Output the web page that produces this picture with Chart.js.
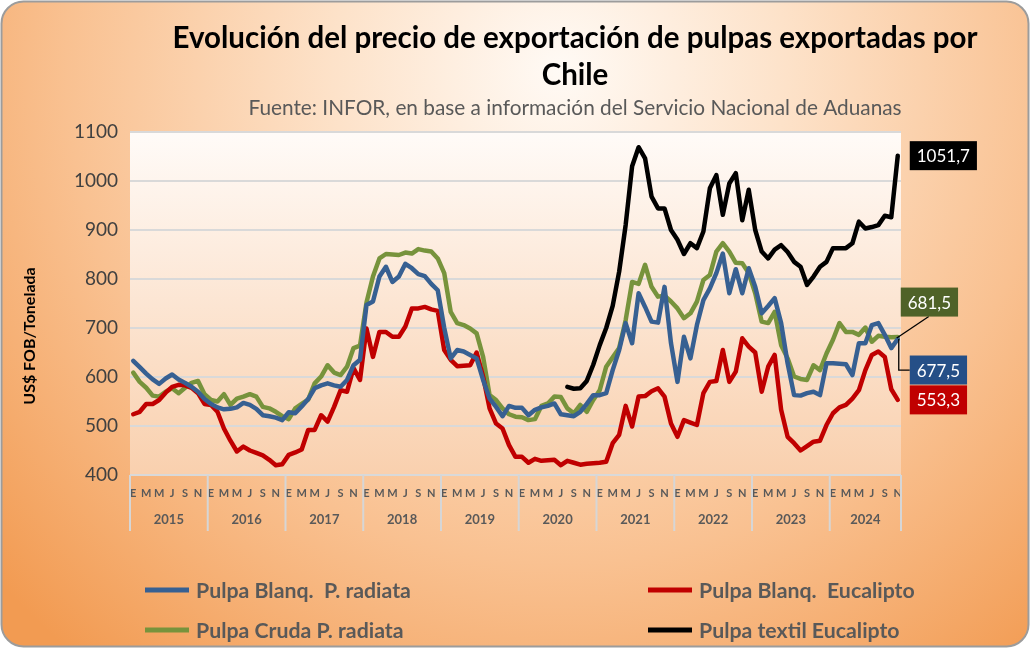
<!DOCTYPE html>
<html><head><meta charset="utf-8">
<script src="https://cdn.jsdelivr.net/npm/chart.js@4.4.0/dist/chart.umd.min.js"></script>
<style>html,body{margin:0;padding:0;background:#ffffff;}canvas{display:block;}</style>
</head><body>
<canvas id="c" width="1030" height="648"></canvas>
<script>
// ---------- DATA ----------
const years = ['2015','2016','2017','2018','2019','2020','2021','2022','2023','2024'];
const monthTicks = ['E','','M','','M','','J','','S','','N',''];
const seriesNames = ['Pulpa Blanq.  P. radiata','Pulpa Blanq.  Eucalipto','Pulpa Cruda P. radiata','Pulpa textil Eucalipto'];
const yTicks = [400,500,600,700,800,900,1000,1100];

const blancaRadiata = [
633,620,607,595,586,597,605,595,588,580,570,555,
545,538,534,535,538,547,543,535,522,520,517,512,
528,526,540,555,577,583,587,583,580,594,624,635,
747,754,805,825,794,805,831,822,810,806,790,777,
700,638,655,652,645,638,594,556,539,520,541,537,
537,522,533,538,541,546,524,522,520,529,545,563,
563,567,614,655,710,669,771,743,713,711,784,669,
590,682,638,706,757,781,812,852,771,820,771,822,
784,730,745,761,710,628,563,562,567,570,563,628,
628,627,626,604,669,669,706,710,686,659,677.5];

const blancaEucalipto = [
524,529,545,545,553,568,580,584,583,578,567,545,
543,529,495,470,448,458,450,445,440,431,420,422,
441,446,452,492,492,522,509,539,573,570,618,594,
699,641,692,692,682,682,703,740,740,743,738,735,
655,635,622,623,624,650,601,536,505,495,461,437,
437,425,433,429,430,431,420,429,425,421,423,424,
425,427,465,482,541,499,560,561,571,577,560,505,
478,512,507,502,567,590,592,655,590,611,679,662,
650,570,621,645,533,478,465,450,459,468,470,502,
526,538,543,556,573,614,645,652,641,575,553.3];

const crudaRadiata = [
609,590,578,562,560,570,577,567,578,588,592,565,
553,550,565,543,556,560,565,560,539,536,529,520,
514,536,545,554,587,601,624,609,604,621,659,664,
752,805,842,851,850,849,854,852,861,858,856,842,
812,733,710,706,699,689,641,563,553,536,524,519,
518,512,514,541,546,560,559,536,526,543,529,553,
573,621,640,659,716,794,790,829,784,764,766,754,
740,720,730,754,798,808,856,873,856,833,832,812,
771,713,710,733,665,638,601,596,594,624,614,648,
676,710,692,692,686,701,672,684,682,681,681.5];

const textilEucalipto = [
null,null,null,null,null,null,null,null,null,null,null,null,
null,null,null,null,null,null,null,null,null,null,null,null,
null,null,null,null,null,null,null,null,null,null,null,null,
null,null,null,null,null,null,null,null,null,null,null,null,
null,null,null,null,null,null,null,null,null,null,null,null,
null,null,null,null,null,null,null,580,576,577,592,625,
665,700,745,815,910,1030,1069,1046,968,944,944,900,
880,851,873,863,897,985,1012,931,995,1016,920,982,
900,856,842,860,869,855,835,825,788,805,825,835,
863,863,863,873,917,903,906,910,929,926,1051.7];

// categories built from years x months
const categories = [];
years.forEach(y => monthTicks.forEach((m, k) => categories.push(y + '-' + (k + 1))));
categories.length = blancaRadiata.length;

// ---------- STYLE ----------
const FONT = 'Lato, "Open Sans", sans-serif';
const colors = ['#376092', '#c00000', '#77933c', '#000000'];
const labelBg = ['#254f87', '#c00000', '#4f6228', '#000000'];

const bgPlugin = {
  id: 'bg',
  beforeDraw(chart) {
    const ctx = chart.ctx, W = chart.width, H = chart.height;
    ctx.save();
    ctx.fillStyle = '#ffffff';
    ctx.fillRect(0, 0, W, H);
    const g = ctx.createRadialGradient(560, 70, 0, 560, 70, 760);
    g.addColorStop(0, '#fffaf5');
    g.addColorStop(0.3, '#fde2c9');
    g.addColorStop(0.65, '#f9c191');
    g.addColorStop(1, '#f29b52');
    ctx.beginPath();
    ctx.roundRect(1.5, 1.5, W - 3, H - 3, 22);
    ctx.fillStyle = g;
    ctx.fill();
    ctx.lineWidth = 2;
    ctx.strokeStyle = '#9c9c9c';
    ctx.stroke();
    const a = chart.chartArea;
    const pg = ctx.createLinearGradient(0, a.top, 0, a.bottom);
    pg.addColorStop(0, '#fffbf8');
    pg.addColorStop(1, '#f9d0ae');
    ctx.fillStyle = pg;
    ctx.fillRect(a.left, a.top, a.right - a.left, a.bottom - a.top);
    ctx.restore();
  },
  afterDraw(chart) {
    const ctx = chart.ctx, a = chart.chartArea, xs = chart.scales.x;
    ctx.save();
    // year separators and labels
    ctx.strokeStyle = '#d6d6d6';
    ctx.lineWidth = 2;
    const n = categories.length;
    const bounds = [a.left];
    for (let i = 12; i < n; i += 12) bounds.push((xs.getPixelForValue(i - 1) + xs.getPixelForValue(i)) / 2);
    bounds.push(a.right);
    bounds.forEach(x => { ctx.beginPath(); ctx.moveTo(x, a.bottom); ctx.lineTo(x, a.bottom + 56); ctx.stroke(); });
    ctx.fillStyle = '#595959';
    ctx.font = 'bold 13px ' + FONT;
    ctx.textAlign = 'center';
    ctx.textBaseline = 'middle';
    years.forEach((y, k) => ctx.fillText(y, (bounds[k] + bounds[k + 1]) / 2, 520));

    // title & subtitle
    ctx.fillStyle = '#000000';
    ctx.font = 'bold 29.5px ' + FONT;
    ctx.fillText('Evolución del precio de exportación de pulpas exportadas por', 575, 38);
    ctx.fillText('Chile', 575, 75);
    ctx.fillStyle = '#595959';
    ctx.font = '20.8px ' + FONT;
    ctx.fillText('Fuente: INFOR, en base a información del Servicio Nacional de Aduanas', 575, 108);

    // y axis title
    ctx.save();
    ctx.translate(30, 336);
    ctx.rotate(-Math.PI / 2);
    ctx.fillStyle = '#000000';
    ctx.font = 'bold 16px ' + FONT;
    ctx.fillText('US$ FOB/Tonelada', 0, 0);
    ctx.restore();

    // legend
    const legendPos = [[145, 590], [648, 590], [145, 630], [648, 630]];
    ctx.font = 'bold 21.3px ' + FONT;
    ctx.textAlign = 'left';
    chart.data.datasets.forEach((ds, k) => {
      const [lx, ly] = legendPos[k];
      ctx.strokeStyle = ds.borderColor;
      ctx.lineWidth = 5;
      ctx.beginPath(); ctx.moveTo(lx, ly); ctx.lineTo(lx + 44, ly); ctx.stroke();
      ctx.fillStyle = '#595959';
      ctx.fillText(ds.label, lx + 51, ly + 1);
    });

    // end-value labels
    const offs = [
      {dx: 12, dy: 31, leader: 'elbow'},
      {dx: 12, dy: 0, leader: null},
      {dx: 3, dy: -35, leader: 'diag'},
      {dx: 12, dy: 0, leader: null}
    ];
    ctx.font = '17px ' + FONT;
    chart.data.datasets.forEach((ds, k) => {
      const meta = chart.getDatasetMeta(k);
      const last = ds.data.length - 1;
      const pt = meta.data[last];
      const v = ds.data[last];
      const txt = v.toFixed(1).replace('.', ',');
      const o = offs[k];
      const tw = ctx.measureText(txt).width;
      const bw = tw + 14, bh = 29;
      const bx = pt.x + o.dx, by = pt.y + o.dy - bh / 2;
      ctx.strokeStyle = '#000000';
      ctx.lineWidth = 1.3;
      if (o.leader === 'elbow') {
        ctx.beginPath(); ctx.moveTo(pt.x + 1, pt.y); ctx.lineTo(pt.x + 1, pt.y + o.dy); ctx.lineTo(bx, pt.y + o.dy); ctx.stroke();
      } else if (o.leader === 'diag') {
        ctx.beginPath(); ctx.moveTo(pt.x - 1, pt.y + 1); ctx.lineTo(bx + 28, by + bh); ctx.stroke();
      }
      ctx.fillStyle = labelBg[k];
      ctx.fillRect(bx, by, bw, bh);
      ctx.fillStyle = '#ffffff';
      ctx.textAlign = 'center';
      ctx.fillText(txt, bx + bw / 2, by + bh / 2 + 1);
    });
    ctx.restore();
  }
};

const series = [blancaRadiata, blancaEucalipto, crudaRadiata, textilEucalipto];

new Chart(document.getElementById('c'), {
  type: 'line',
  data: {
    labels: categories,
    datasets: series.map((d, k) => ({
      label: seriesNames[k],
      data: d,
      borderColor: colors[k],
      backgroundColor: colors[k],
      borderWidth: 4.5,
      pointRadius: 0,
      tension: 0,
      spanGaps: false,
      fill: false,
      borderJoinStyle: 'round',
      borderCapStyle: 'round'
    }))
  },
  options: {
    responsive: false,
    animation: false,
    devicePixelRatio: 1,
    layout: {padding: {left: 0, right: 129, top: 132, bottom: 113}},
    plugins: {legend: {display: false}, title: {display: false}, tooltip: {enabled: false}},
    scales: {
      x: {
        type: 'category',
        offset: true,
        grid: {display: false, drawTicks: false},
        border: {display: false},
        ticks: {
          autoSkip: false, maxRotation: 0, minRotation: 0, padding: 12,
          font: {family: FONT, size: 11, weight: 'bold'}, color: '#595959',
          callback: (v, i) => monthTicks[i % 12]
        },
        afterFit: s => { s.height = 60; }
      },
      y: {
        min: yTicks[0], max: yTicks[yTicks.length - 1],
        afterBuildTicks: s => { s.ticks = yTicks.map(v => ({value: v})); },
        grid: {color: '#d9d9d9', lineWidth: 2, drawTicks: false},
        border: {display: false},
        ticks: {padding: 12, font: {family: FONT, size: 19}, color: '#404040', callback: v => String(v)},
        afterFit: s => { s.width = 130; }
      }
    }
  },
  plugins: [bgPlugin]
});
</script>
</body></html>
